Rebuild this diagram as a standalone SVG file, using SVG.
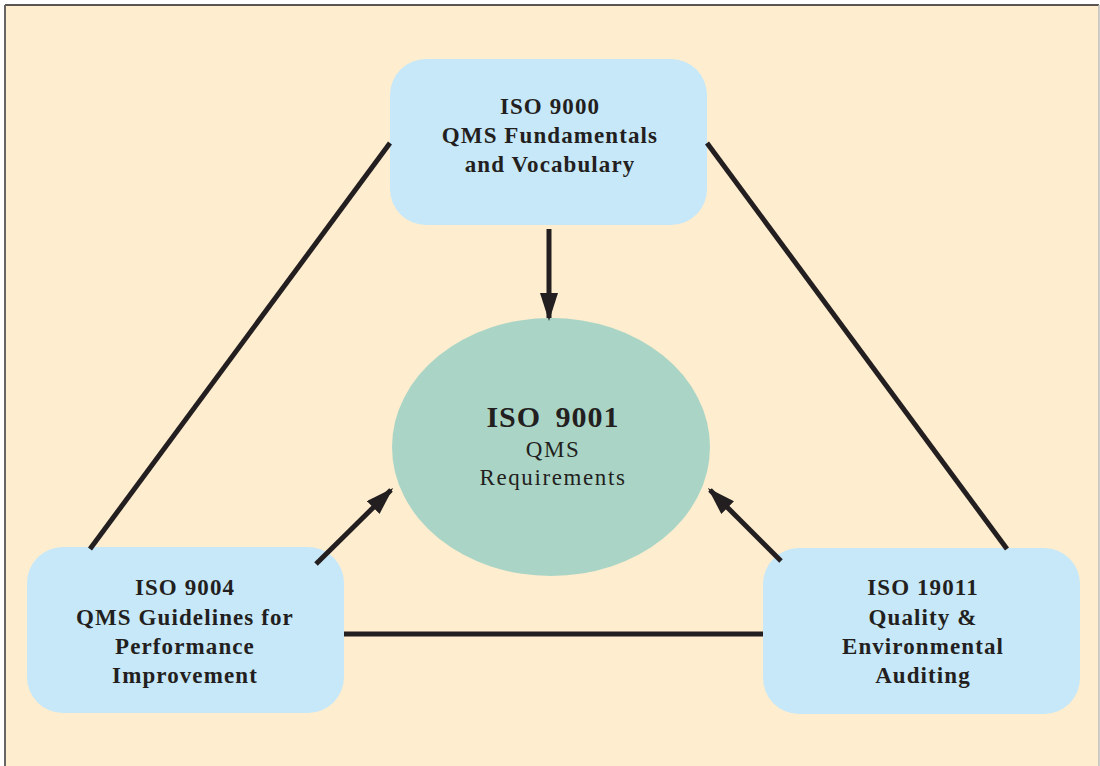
<svg xmlns="http://www.w3.org/2000/svg" width="1100" height="766" viewBox="0 0 1100 766">
<defs>
<style>
.box{fill:#C6E8F9;}
.ell{fill:#AAD5C6;}
.t{font-family:"Liberation Serif","DejaVu Serif",serif;font-size:23px;font-weight:bold;letter-spacing:1.1px;fill:#231F20;text-anchor:middle;}
.tr{font-family:"Liberation Serif","DejaVu Serif",serif;font-size:23px;letter-spacing:1.6px;fill:#231F20;text-anchor:middle;}
.tb{font-family:"Liberation Serif","DejaVu Serif",serif;font-size:30px;font-weight:bold;letter-spacing:1px;word-spacing:6px;fill:#231F20;text-anchor:middle;}
.ln{stroke:#231F20;stroke-width:5;fill:none;}
</style>
<marker id="ah" markerWidth="5.6" markerHeight="3.6" refX="5" refY="1.8" orient="auto" markerUnits="strokeWidth" viewBox="0 0 5.6 3.6">
<path d="M0,0 L5.6,1.8 L0,3.6 Z" fill="#231F20"/>
</marker>
</defs>
<rect x="0" y="0" width="1100" height="766" fill="#FFFFFF"/>
<rect x="5" y="5" width="1094" height="770" fill="#FEEDCE"/>
<line x1="5" y1="5" x2="1099" y2="5" stroke="#231F20" stroke-width="1.5"/>
<line x1="5" y1="5" x2="5" y2="766" stroke="#666" stroke-width="2"/>
<line x1="1099" y1="5" x2="1099" y2="766" stroke="#bbb" stroke-width="1.5"/>
<g id="iso9000">
<rect class="box" x="390" y="59" width="317" height="166" rx="36"/>
<text class="t" x="550" y="114">ISO 9000</text>
<text class="t" x="550" y="143">QMS Fundamentals</text>
<text class="t" x="550" y="172">and Vocabulary</text>
</g>
<g id="iso9001">
<ellipse class="ell" cx="551" cy="447" rx="159" ry="129"/>
<text class="tb" x="553" y="427">ISO 9001</text>
<text class="tr" x="553" y="457">QMS</text>
<text class="tr" x="553" y="485">Requirements</text>
</g>
<g id="iso9004">
<rect class="box" x="27" y="547" width="317" height="166" rx="36"/>
<text class="t" x="185" y="595">ISO 9004</text>
<text class="t" x="185" y="625">QMS Guidelines for</text>
<text class="t" x="185" y="654">Performance</text>
<text class="t" x="185" y="683">Improvement</text>
</g>
<g id="iso19011">
<rect class="box" x="763" y="548" width="317" height="166" rx="36"/>
<text class="t" x="923" y="595">ISO 19011</text>
<text class="t" x="923" y="625">Quality &amp;</text>
<text class="t" x="923" y="654">Environmental</text>
<text class="t" x="923" y="683">Auditing</text>
</g>
<g id="connectors">
<line class="ln" x1="390" y1="143" x2="90" y2="549"/>
<line class="ln" x1="707" y1="143" x2="1007" y2="549"/>
<line class="ln" x1="344" y1="634" x2="763" y2="634"/>
<line class="ln" x1="549" y1="229" x2="549" y2="318" marker-end="url(#ah)"/>
<line class="ln" x1="316" y1="564" x2="391" y2="490" marker-end="url(#ah)"/>
<line class="ln" x1="781" y1="561" x2="710" y2="490" marker-end="url(#ah)"/>
</g>
</svg>
